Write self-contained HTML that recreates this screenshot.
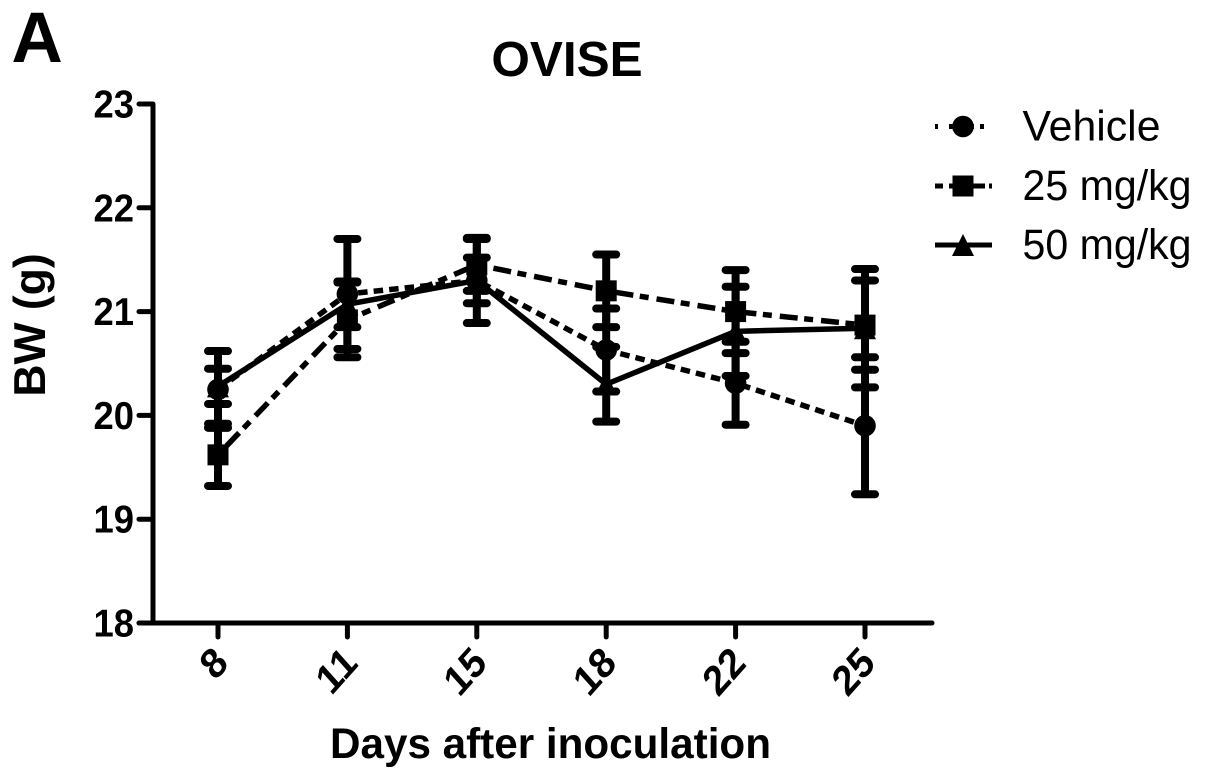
<!DOCTYPE html>
<html>
<head>
<meta charset="utf-8">
<style>
html,body{margin:0;padding:0;background:#fff;width:1205px;height:781px;overflow:hidden}
svg{display:block;font-family:"Liberation Sans",Arial,sans-serif}
text{fill:#000}
</style>
</head>
<body>
<svg id="chart" width="1205" height="781" viewBox="0 0 1205 781" xmlns="http://www.w3.org/2000/svg">
  <text x="11.5" y="62" font-size="71" font-weight="700">A</text>
  <text x="567" y="76" font-size="49.5" font-weight="700" text-anchor="middle">OVISE</text>
  <text transform="translate(45 325) rotate(-90)" font-size="44.5" font-weight="700" text-anchor="middle">BW (g)</text>
  <text x="550.5" y="758" font-size="43" font-weight="700" text-anchor="middle" textLength="441" lengthAdjust="spacingAndGlyphs">Days after inoculation</text>
  <g id="plot"></g>
  <g id="legend"></g>
</svg>
<script>
const categories = ['8', '11', '15', '18', '22', '25'];
const yTicks = [18, 19, 20, 21, 22, 23];
const seriesNames = ['Vehicle', '25 mg/kg', '50 mg/kg'];
const vehicleMeans = [20.25, 21.17, 21.30, 20.63, 20.31, 19.90];
const vehicleErrors = [0.37, 0.53, 0.41, 0.40, 0.40, 0.66];
const dose25Means = [19.62, 20.92, 21.45, 21.20, 21.00, 20.87];
const dose25Errors = [0.30, 0.36, 0.25, 0.35, 0.40, 0.43];
const dose50Means = [20.28, 21.07, 21.30, 20.30, 20.81, 20.84];
const dose50Errors = [0.17, 0.22, 0.22, 0.36, 0.43, 0.57];

const NS = 'http://www.w3.org/2000/svg';
const plot = document.getElementById('plot');
const legend = document.getElementById('legend');
function yScale(v) { return 623 - (v - 18) * 103.8; }
function xScale(i) { return 218 + i * 129.4; }
function make(parent, tag, attrs) {
  const el = document.createElementNS(NS, tag);
  for (const k in attrs) el.setAttribute(k, attrs[k]);
  parent.appendChild(el);
  return el;
}
function drawMarker(parent, kind, x, y) {
  let el;
  if (kind === 'circle') {
    el = make(parent, 'circle', { cx: x, cy: y, r: 10.8, fill: '#000' });
  } else if (kind === 'square') {
    el = make(parent, 'rect', { x: x - 10.5, y: y - 10.5, width: 21, height: 21, fill: '#000' });
  } else {
    el = make(parent, 'polygon', { points: (x - 11) + ',' + (y + 11) + ' ' + x + ',' + (y - 11) + ' ' + (x + 11) + ',' + (y + 11), fill: '#000' });
  }
  return el;
}

const seriesStyles = [
  { key: 'vehicle', means: vehicleMeans, errors: vehicleErrors, marker: 'circle', dash: '9.5 6.1', offset: 0, legendDash: '3 11 25 6 4 40' },
  { key: 'dose-25', means: dose25Means, errors: dose25Errors, marker: 'square', dash: '18 6.5 9 8', offset: 29, legendDash: '8 6 36 4 3 40' },
  { key: 'dose-50', means: dose50Means, errors: dose50Errors, marker: 'triangle', dash: 'none', offset: 0, legendDash: 'none' }
];

/* axes */
const yAxis = make(plot, 'line', { x1: 153, y1: 104, x2: 153, y2: 623, stroke: '#000', 'stroke-width': 5 });


const xAxis = make(plot, 'line', { x1: 139, y1: 623, x2: 932, y2: 623, stroke: '#000', 'stroke-width': 5, 'stroke-linecap': 'round' });



yTicks.forEach(function (t) {
  const y = yScale(t);
  const tick = make(plot, 'line', { x1: 139, y1: y, x2: 153, y2: y, stroke: '#000', 'stroke-width': 5, 'stroke-linecap': 'round' });
  
  
  const label = make(plot, 'text', { x: 134, y: y + 13.5, 'font-size': 39, 'font-weight': 700, 'text-anchor': 'end', textLength: 40.5, lengthAdjust: 'spacingAndGlyphs' });
  label.textContent = String(t);
  
  
});

categories.forEach(function (c, i) {
  const x = xScale(i);
  const tick = make(plot, 'line', { x1: x, y1: 623, x2: x, y2: 637, stroke: '#000', 'stroke-width': 5, 'stroke-linecap': 'round' });
  
  
  const label = make(plot, 'text', { transform: 'translate(' + (x + 12) + ' 665) scale(1 1.12) rotate(-45)', 'font-size': 37.5, 'font-weight': 700, 'text-anchor': 'end' });
  label.textContent = c;
  
  
});

/* series */
seriesStyles.forEach(function (s) {
  const g = make(plot, 'g', {});
  
  

  s.means.forEach(function (m, i) {
    const x = xScale(i);
    const hi = yScale(m + s.errors[i]);
    const lo = yScale(m - s.errors[i]);
    const bar = make(g, 'path', {
      d: 'M' + x + ' ' + hi + 'V' + lo + 'M' + (x - 10) + ' ' + hi + 'H' + (x + 10) + 'M' + (x - 10) + ' ' + lo + 'H' + (x + 10),
      fill: 'none', stroke: '#000', 'stroke-width': 8, 'stroke-linecap': 'round'
    });
    
    
  });

  const pts = s.means.map(function (m, i) { return xScale(i) + ',' + yScale(m); }).join(' ');
  const line = make(g, 'polyline', { points: pts, fill: 'none', stroke: '#000', 'stroke-width': 5.5 });
  if (s.dash !== 'none') {
    line.setAttribute('stroke-dasharray', s.dash);
    line.setAttribute('stroke-dashoffset', s.offset);
  }
  
  

  s.means.forEach(function (m, i) {
    const mk = drawMarker(g, s.marker, xScale(i), yScale(m));
    
    
  });
});

/* legend */
const legendRows = [126.5, 186, 245];
const legendWidths = [138, 169, 169];
seriesStyles.forEach(function (s, i) {
  const y = legendRows[i];
  const g = make(legend, 'g', {});
  
  
  const sample = make(g, 'line', { x1: 935, y1: y, x2: 992, y2: y, stroke: '#000', 'stroke-width': 5 });
  if (s.legendDash !== 'none') sample.setAttribute('stroke-dasharray', s.legendDash);
  
  
  const mk = drawMarker(g, s.marker, 963, y);
  
  
  const label = make(g, 'text', { x: 1022.5, y: y + 14, 'font-size': 43, textLength: legendWidths[i], lengthAdjust: 'spacingAndGlyphs' });
  label.textContent = seriesNames[i];
  
  
});
</script>
</body>
</html>
